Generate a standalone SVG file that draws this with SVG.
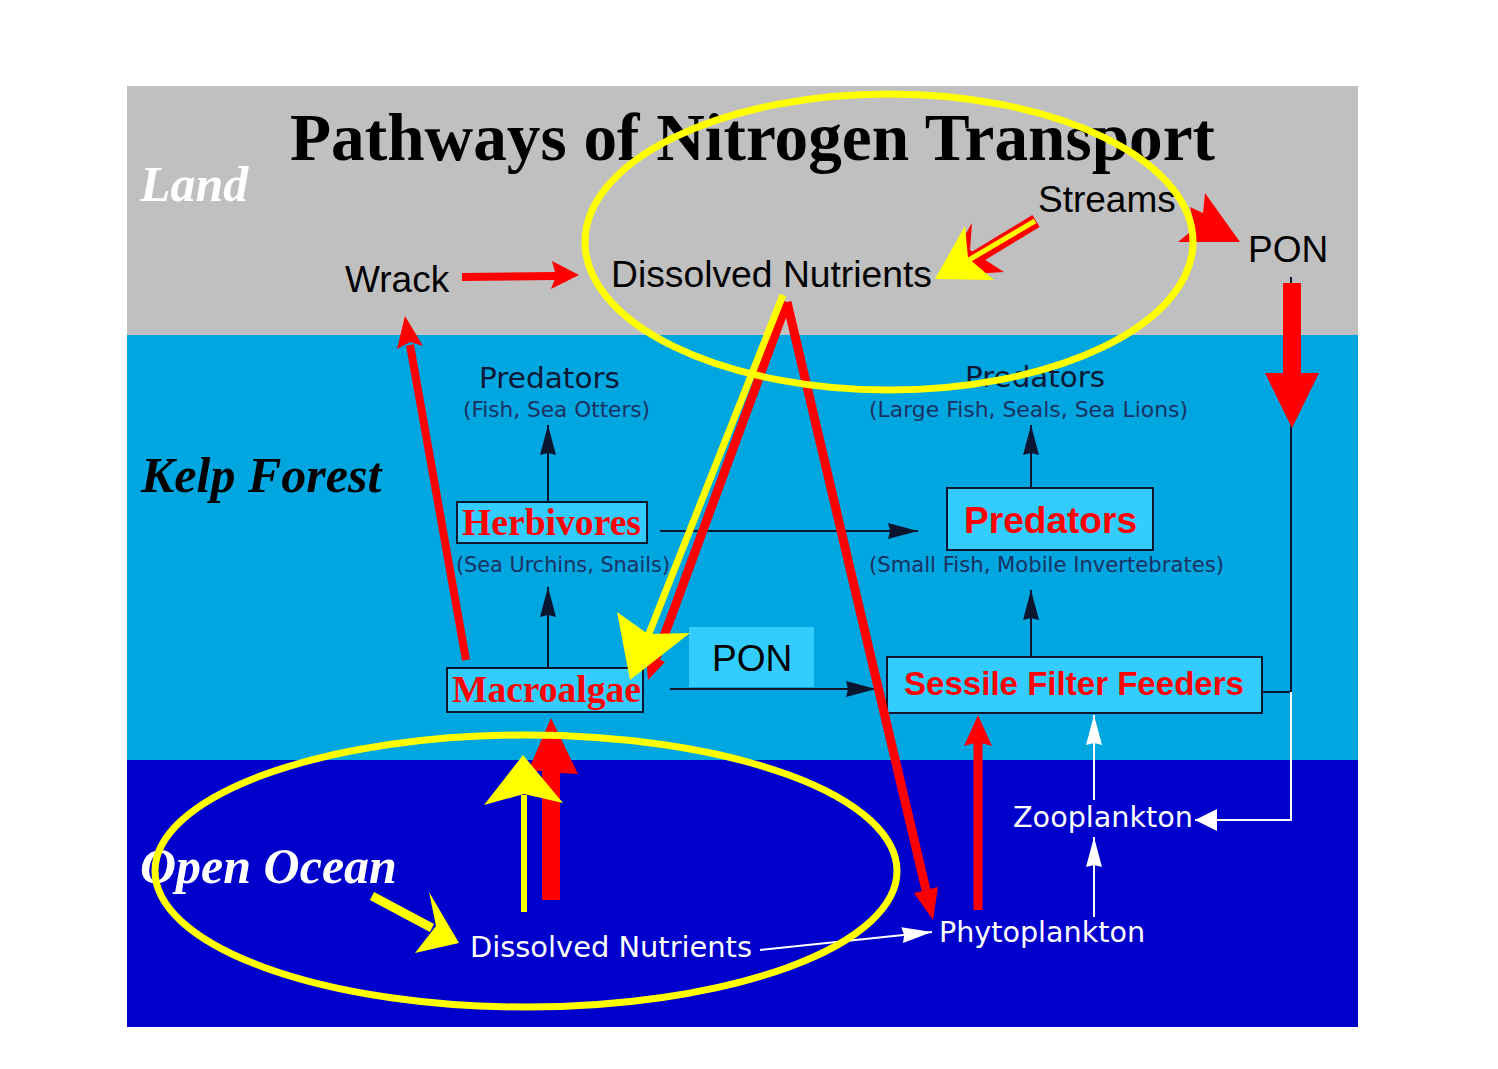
<svg xmlns="http://www.w3.org/2000/svg" width="1498" height="1069" viewBox="0 0 1498 1069">
  <defs>
    <style>
      .lbl { font-family: "Liberation Sans", Arial, sans-serif; font-size: 37px; fill: #000; }
      .sm { font-family: "DejaVu Sans", Verdana, sans-serif; font-size: 29px; fill: #0c1834; }
      .sub { font-family: "DejaVu Sans", Verdana, sans-serif; font-size: 21px; fill: #1b3262; }
      .wt { font-family: "DejaVu Sans", Verdana, sans-serif; font-size: 28px; fill: #ffffff; }
      .region { font-family: "Liberation Serif", "Times New Roman", serif; font-style: italic; font-weight: bold; font-size: 50px; }
      .title { font-family: "Liberation Serif", "Times New Roman", serif; font-weight: bold; font-size: 68px; fill: #000; }
      .boxser { font-family: "Liberation Serif", "Times New Roman", serif; font-weight: bold; font-size: 37px; fill: #ff0000; }
      .boxsans { font-family: "Liberation Sans", Arial, sans-serif; font-weight: bold; fill: #ff0000; }
      .box { fill: #33ccff; stroke: #0a1530; stroke-width: 2; }
      .kline { fill: none; stroke: #0a1530; stroke-width: 2; }
      .wline { fill: none; stroke: #ffffff; stroke-width: 2; }
      .red { fill: #ff0000; }
      .rline { fill: none; stroke: #ff0000; }
      .yel { fill: #ffff00; }
      .yline { fill: none; stroke: #ffff00; }
    </style>
    <marker id="ak" markerUnits="userSpaceOnUse" markerWidth="30" markerHeight="18" viewBox="0 0 30 18" refX="30" refY="9" orient="auto">
      <path d="M0,1 L30,9 L0,17 L2,9 z" fill="#0a1530"/>
    </marker>
    <marker id="aw" markerUnits="userSpaceOnUse" markerWidth="30" markerHeight="18" viewBox="0 0 30 18" refX="30" refY="9" orient="auto">
      <path d="M0,1 L30,9 L0,17 L2,9 z" fill="#ffffff"/>
    </marker>
    <marker id="aw2" markerUnits="userSpaceOnUse" markerWidth="22" markerHeight="24" viewBox="0 0 22 24" refX="22" refY="12" orient="auto">
      <path d="M0,1 L22,12 L0,23 z" fill="#ffffff"/>
    </marker>
  </defs>

  <rect width="1498" height="1069" fill="#ffffff"/>
  <g id="bands">
    <rect x="127" y="86" width="1231" height="249" fill="#c0c0c0"/>
    <rect x="127" y="335" width="1231" height="425" fill="#00a6e0"/>
    <rect x="127" y="760" width="1231" height="267" fill="#0000cc"/>
  </g>

  <g id="region-labels">
    <text class="region" x="140" y="201" fill="#ffffff">Land</text>
    <text class="region" x="141" y="492" fill="#000000">Kelp Forest</text>
    <text class="region" x="140" y="883" fill="#ffffff">Open Ocean</text>
  </g>

  <text class="title" x="290" y="160" textLength="925" lengthAdjust="spacingAndGlyphs">Pathways of Nitrogen Transport</text>

  <g id="wrack"><text class="lbl" x="345" y="292">Wrack</text></g>
  <g id="land-nutrients"><text class="lbl" x="611" y="287" textLength="321" lengthAdjust="spacingAndGlyphs">Dissolved Nutrients</text></g>
  <g id="streams"><text class="lbl" x="1038" y="212">Streams</text></g>
  <g id="pon-land"><text class="lbl" x="1248" y="262">PON</text></g>

  <g id="predators-top-left">
    <text class="sm" x="479" y="388" textLength="141" lengthAdjust="spacingAndGlyphs">Predators</text>
    <text class="sub" x="463" y="417" textLength="187" lengthAdjust="spacingAndGlyphs">(Fish, Sea Otters)</text>
  </g>
  <g id="predators-top-right">
    <text class="sm" x="965" y="387" textLength="140" lengthAdjust="spacingAndGlyphs">Predators</text>
    <text class="sub" x="869" y="417" textLength="319" lengthAdjust="spacingAndGlyphs">(Large Fish, Seals, Sea Lions)</text>
  </g>
  <g id="herbivores">
    <rect class="box" x="457" y="502" width="190" height="41"/>
    <text class="boxser" x="462" y="535" textLength="179" lengthAdjust="spacingAndGlyphs">Herbivores</text>
    <text class="sub" x="456" y="572" textLength="214" lengthAdjust="spacingAndGlyphs">(Sea Urchins, Snails)</text>
  </g>
  <g id="predators">
    <rect class="box" x="947" y="488" width="206" height="62"/>
    <text class="boxsans" x="964" y="533" font-size="37" textLength="173" lengthAdjust="spacingAndGlyphs">Predators</text>
    <text class="sub" x="869" y="572" textLength="355" lengthAdjust="spacingAndGlyphs">(Small Fish, Mobile Invertebrates)</text>
  </g>
  <g id="macroalgae">
    <rect class="box" x="447" y="668" width="196" height="44"/>
    <text class="boxser" x="452" y="702" textLength="189" lengthAdjust="spacingAndGlyphs">Macroalgae</text>
  </g>
  <g id="pon-kelp">
    <rect x="689" y="627" width="125" height="60" fill="#33ccff"/>
    <text class="lbl" x="712" y="671">PON</text>
  </g>
  <g id="sessile">
    <rect class="box" x="887" y="657" width="375" height="56"/>
    <text class="boxsans" x="904" y="695" font-size="33" textLength="340" lengthAdjust="spacingAndGlyphs">Sessile Filter Feeders</text>
  </g>
  <g id="zooplankton"><text class="wt" x="1013" y="827" textLength="180" lengthAdjust="spacingAndGlyphs">Zooplankton</text></g>
  <g id="phytoplankton"><text class="wt" x="939" y="942" textLength="206" lengthAdjust="spacingAndGlyphs">Phytoplankton</text></g>
  <g id="ocean-nutrients"><text class="wt" x="470" y="957" textLength="282" lengthAdjust="spacingAndGlyphs">Dissolved Nutrients</text></g>

  <g id="connectors">
    <!-- black food-web arrows -->
    <path class="kline" d="M548,502 L548,425" marker-end="url(#ak)"/>
    <path class="kline" d="M548,668 L548,587" marker-end="url(#ak)"/>
    <path class="kline" d="M660,531 L918,531" marker-end="url(#ak)"/>
    <path class="kline" d="M1031,488 L1031,425" marker-end="url(#ak)"/>
    <path class="kline" d="M1031,657 L1031,590" marker-end="url(#ak)"/>
    <path class="kline" d="M670,689 L876,689" marker-end="url(#ak)"/>
    <path class="kline" d="M1262,692 L1291,692 L1291,426"/>
    <path class="kline" d="M1291,277 L1291,284"/>
    <!-- white arrows -->
    <path class="wline" d="M1291,692 L1291,820 L1195,820" marker-end="url(#aw2)"/>
    <path class="wline" d="M1094,800 L1094,715" marker-end="url(#aw)"/>
    <path class="wline" d="M1094,917 L1094,837" marker-end="url(#aw)"/>
    <path class="wline" d="M760,950 L932,932" marker-end="url(#aw)"/>

    <!-- red nitrogen arrows -->
    <path class="rline" stroke-width="8" d="M462,277 L556,276"/>
    <polygon class="red" points="579,275 552,261 556,276 551,289"/>
    <path class="rline" stroke-width="8" d="M466,660 L410,345"/>
    <polygon class="red" points="405,316 423,346 410,342 397,349"/>
    <path class="rline" stroke-width="9" d="M787,302 L656,658"/>
    <polygon class="red" points="648,680 646,654 656,658 665,662"/>
    <path class="rline" stroke-width="9" d="M787,302 L926,890"/>
    <polygon class="red" points="933,920 914,893 926,890 938,887"/>
    <path class="rline" stroke-width="14" d="M1036,221 L975,258"/>
    <polygon class="red" points="941,276 972,223 970,250 1004,272"/>
    <polygon class="red" points="1205,193 1240,242 1178,242 1195,228 1190,207 1203,213"/>
    <polygon class="red" points="1283,283 1301,283 1301,373 1319,373 1292,428 1265,373 1283,373"/>
    <polygon class="red" points="542,900 560,900 560,773 578,774 551,718 528,771 542,771"/>
    <path class="rline" stroke-width="9" d="M978,910 L978,742"/>
    <polygon class="red" points="978,715 992,746 978,742 964,746"/>
  </g>

  <g id="highlights">
    <ellipse cx="889" cy="242" rx="304" ry="148" fill="none" stroke="#ffff00" stroke-width="7"/>
    <ellipse cx="526" cy="871" rx="371" ry="136" fill="none" stroke="#ffff00" stroke-width="7"/>
  </g>

  <g id="yellow-arrows">
    <path class="yline" stroke-width="5" d="M1035,221 L962,264"/>
    <polygon class="yel" points="935,279 965,226 968,258 994,280"/>
    <path class="yline" stroke-width="7" d="M783,295 L648,636"/>
    <polygon class="yel" points="630,680 617,612 648,634 690,633"/>
    <path class="yline" stroke-width="6" d="M524,912 L524,795"/>
    <polygon class="yel" points="523,755 563,803 524,794 484,805"/>
    <path class="yline" stroke-width="9" d="M372,896 L432,928"/>
    <polygon class="yel" points="459,943 429,892 436,926 415,953"/>
  </g>
</svg>
